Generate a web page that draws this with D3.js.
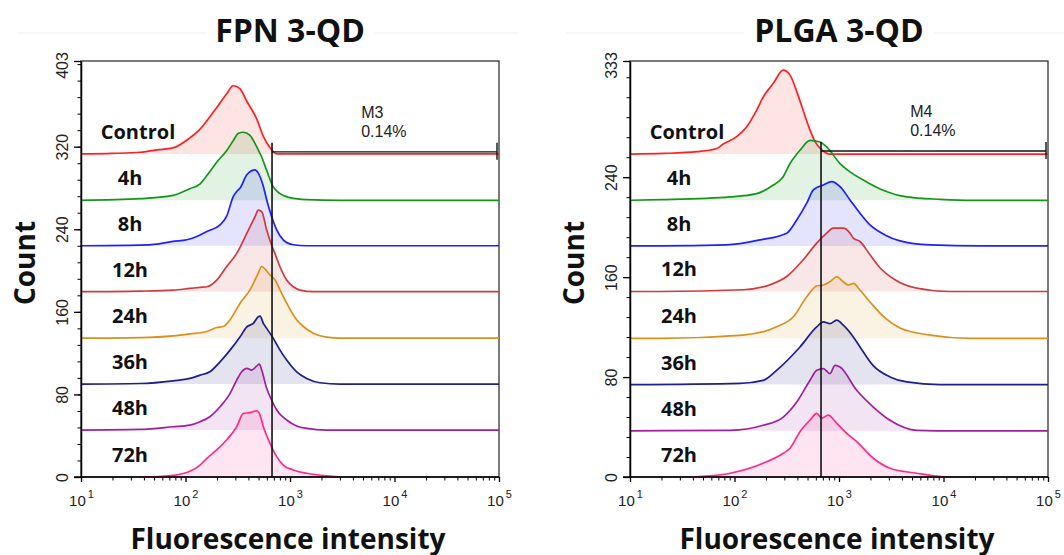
<!DOCTYPE html>
<html>
<head>
<meta charset="utf-8">
<script src="https://cdn.jsdelivr.net/npm/d3@7"></script>
<style>
body { margin: 0; background: #fff; }
</style>
</head>
<body>
<script>
var w = 1064;
var h = 555;

/*
    Series names (one histogram per time point) and their line colours.
*/
var categories = ["Control", "4h", "8h", "12h", "24h", "36h", "48h", "72h"];
var lineColors = ["#ff2020", "#14961a", "#1f1fff", "#cf3a3c", "#d8921c", "#1e1e8c", "#9e209e", "#ff2b8c"];

/*
    Tick labels for the axes.
*/
var xTickValues = [10, 100, 1000, 10000, 100000];
var xTickExponents = ["1", "2", "3", "4", "5"];
var fpnYTicks = [0, 80, 160, 240, 320, 403];
var plgaYTicks = [0, 80, 160, 240, 333];

/*
    Vertical offset (in counts) of every histogram, stacked from Control down to 72h.
*/
var fpnOffsets = [313, 268, 224, 179.5, 134.5, 90, 45.5, 0];
var plgaOffsets = [258.5, 221.5, 185, 148.5, 111, 74, 37, 0];

/*
    Gate marker: [start, end] intensity, count level and its text.
*/
var fpnGate = [673, 100000];
var fpnGateCount = 315;
var fpnGateText = ["M3", "0.14%"];
var plgaGate = [673, 100000];
var plgaGateCount = 261;
var plgaGateText = ["M4", "0.14%"];

/*
    FPN 3-QD histograms: [fluorescence intensity, count above the offset]
*/
var fpnControl = [[10, 0], [20, 0.5], [37, 1.6], [53, 3.9], [76, 5.8], [110, 15.5], [138, 24], [160, 32], [199, 45], [247, 58], [287, 66], [333, 63], [386, 51], [480, 34], [556, 17], [644, 6], [746, 0], [100000, 0]];
var fpn4h = [[10, 0], [37, 1.6], [76, 4.8], [110, 11.3], [138, 16], [160, 24], [199, 37], [247, 48], [287, 58], [321, 65], [358, 66], [414, 63], [480, 52], [536, 42], [598, 29], [692, 13], [802, 6.5], [1000, 2.6], [1445, 0.7], [3010, 0], [100000, 0]];
var fpn8h = [[10, 0], [37, 0.6], [53, 1.6], [76, 4.2], [103, 5.8], [128, 9], [160, 13.9], [214, 20.3], [247, 28.4], [287, 47.8], [309, 52.6], [333, 55.9], [386, 68.8], [463, 73.6], [497, 70.4], [556, 57.5], [598, 44.6], [667, 28.4], [746, 15.5], [862, 5.8], [1076, 1], [1445, 0], [100000, 0]];
var fpn12h = [[10, 0], [37, 0.6], [76, 1.6], [110, 3.2], [138, 4.2], [160, 4.8], [199, 11.3], [247, 24.2], [309, 37.1], [386, 56.5], [463, 72.7], [497, 79.1], [536, 77.5], [598, 59.8], [667, 45.2], [717, 37.1], [802, 24.2], [929, 11.3], [1076, 4.8], [1248, 1.6], [1672, 0], [100000, 0]];
var fpn24h = [[10, 0], [37, 0.6], [76, 2.3], [110, 4.2], [160, 6.5], [199, 10.3], [230, 11.3], [267, 17.8], [333, 33.9], [414, 46.8], [497, 63], [536, 69.4], [577, 66.9], [644, 61.3], [717, 56.5], [802, 46.8], [929, 33.9], [1158, 17.8], [1342, 11.3], [1672, 4.8], [2245, 1], [3010, 0], [100000, 0]];
var fpn36h = [[10, 0], [37, 0.6], [76, 3.2], [110, 5.5], [138, 8.7], [171, 11.9], [214, 21.6], [267, 32.9], [333, 45.8], [386, 55.5], [446, 58.8], [497, 65.2], [517, 65.9], [556, 58.8], [598, 54], [692, 44.3], [802, 32.9], [929, 23.3], [1158, 11.9], [1445, 5.5], [1936, 1.3], [3010, 0], [100000, 0]];
var fpn48h = [[10, 0], [37, 0.6], [76, 3.2], [110, 4.8], [138, 8.1], [171, 12.9], [214, 22.6], [267, 35.5], [309, 48.4], [345, 56.5], [386, 59.8], [430, 58.1], [480, 62], [509, 63.9], [536, 58.1], [598, 40.4], [667, 29.1], [746, 19.4], [929, 9.7], [1158, 3.9], [1445, 1.6], [2245, 0], [100000, 0]];
var fpn72h = [[35, 0], [55, 0.5], [76, 1.5], [110, 5.5], [138, 11.6], [160, 18.1], [199, 26.2], [247, 35.8], [309, 48.7], [358, 61.7], [414, 62.3], [480, 64.2], [509, 61.7], [556, 48.7], [644, 32.6], [746, 19.7], [862, 11.6], [1076, 6.8], [1445, 3.6], [2245, 1], [3010, 0]];

/*
    PLGA 3-QD histograms
*/
var plgaControl = [[10, 0], [21, 0.5], [43.5, 1.9], [67.6, 4.5], [78, 8], [105, 13.9], [131, 21.9], [163, 35.2], [189, 45.9], [235, 56.6], [293, 67.2], [340, 63.2], [396, 49.6], [453, 35.2], [528, 19.2], [602, 8.8], [688, 3.2], [820, 0], [100000, 0]];
var plga4h = [[10, 0], [20, 0.5], [91, 2.7], [163, 5.3], [233, 12], [291, 18.7], [340, 29.4], [423, 40], [528, 48], [658, 46.7], [762, 42.7], [1023, 29.4], [1275, 22.7], [1840, 14.7], [2652, 8], [4443, 2.7], [9266, 0.8], [19140, 0], [100000, 0]];
var plga8h = [[10, 0], [19.4, 0], [84, 0.8], [175, 4.8], [316, 10.2], [394, 20.8], [491, 34.2], [568, 44.8], [708, 48.8], [851, 51.5], [1023, 47.5], [1275, 36.8], [1589, 26.2], [1980, 16.8], [2754, 8.8], [3834, 4], [7427, 0.8], [22330, 0], [100000, 0]];
var plga12h = [[10, 0], [19.4, 0], [121, 1.4], [219, 5.4], [316, 12], [455, 25.4], [612, 38.7], [762, 46.7], [881, 50.7], [1099, 50.7], [1275, 46.7], [1371, 42.7], [1589, 40], [1980, 29.4], [2466, 19], [3434, 9.4], [5333, 3], [11530, 0], [100000, 0]];
var plga24h = [[10, 0], [19.4, 0], [121, 2.6], [253, 9.3], [366, 17.3], [491, 33.3], [612, 41.9], [708, 42.7], [820, 45.3], [951, 49.3], [1099, 45.3], [1227, 42.7], [1371, 44], [1589, 38.7], [1980, 29.1], [2754, 16.3], [3834, 8.3], [7427, 2.6], [17940, 0], [100000, 0]];
var plga36h = [[10, 0], [113, 1], [188, 3.4], [253, 11.4], [423, 30.1], [612, 46.1], [708, 50.1], [820, 48.8], [951, 51.5], [1099, 47.5], [1371, 38.1], [1589, 30.1], [2115, 15.4], [3076, 6.1], [4446, 2.1], [9266, 0], [100000, 0]];
var plga48h = [[10, 0], [91, 0.4], [188, 4.4], [293, 11], [394, 23], [528, 40.4], [612, 48.4], [708, 49.8], [820, 45.8], [916, 52.4], [1023, 51], [1477, 32.4], [2130, 19], [3076, 8.4], [5546, 0.4], [13360, 0], [100000, 0]];
var plga72h = [[40, 0], [43.5, 0.2], [91, 3], [188, 11], [293, 19], [340, 23], [423, 36.3], [528, 45.6], [612, 51], [683, 47], [790, 49.6], [951, 43], [1186, 35], [1477, 28.3], [2130, 15], [3076, 7], [5546, 3], [9953, 0.2], [12000, 0]];

var fpnSeries = [fpnControl, fpn4h, fpn8h, fpn12h, fpn24h, fpn36h, fpn48h, fpn72h];
var plgaSeries = [plgaControl, plga4h, plga8h, plga12h, plga24h, plga36h, plga48h, plga72h];

var boldFont = "'Open Sans', 'Noto Sans', sans-serif";
var plainFont = "'Liberation Sans', Arial, sans-serif";

var svg = d3.select("body")
    .append("svg")
    .attr("width", w)
    .attr("height", h);

/*
    One panel: frame, stacked histograms, gate marker, axes and titles.
*/
function drawPanel(p) {
    var left = p.left;
    var right = p.left + 418;
    var top = 61;
    var bottom = 477;

    var x = d3.scaleLog()
        .domain([10, 100000])
        .range([left, right]);

    var y = d3.scaleLinear()
        .domain([0, p.yMax])
        .range([bottom, top]);

    var g = svg.append("g");

    // title with faint rule either side
    var title = g.append("text")
        .attr("x", (left + right) / 2)
        .attr("y", 41.5)
        .attr("text-anchor", "middle")
        .style("font-family", boldFont)
        .style("font-weight", "bold")
        .style("font-size", "32px")
        .style("fill", "#111")
        .text(p.title);
    var tw = title.node().getComputedTextLength();
    g.append("line")
        .attr("x1", left - 64).attr("x2", (left + right) / 2 - tw / 2 - 10)
        .attr("y1", 33).attr("y2", 33)
        .style("stroke", "#eeeeee");
    g.append("line")
        .attr("x1", (left + right) / 2 + tw / 2 + 10).attr("x2", right + 20)
        .attr("y1", 33).attr("y2", 33)
        .style("stroke", "#eeeeee");

    // frame
    g.append("rect")
        .attr("x", left).attr("y", top)
        .attr("width", right - left).attr("height", bottom - top)
        .style("fill", "none")
        .style("stroke", "#333")
        .style("stroke-width", 1.3);

    // filled areas first, then the lines on top
    p.series.forEach(function(s, i) {
        var base = p.offsets[i];
        var area = d3.area()
            .x(function(d) { return x(d[0]); })
            .y0(y(base))
            .y1(function(d) { return y(base + d[1]); })
            .curve(d3.curveMonotoneX);
        g.append("path")
            .datum(s)
            .attr("d", area)
            .style("fill", lineColors[i])
            .style("fill-opacity", 0.12);
    });

    p.series.forEach(function(s, i) {
        var base = p.offsets[i];
        var line = d3.line()
            .x(function(d) { return x(d[0]); })
            .y(function(d) { return y(base + d[1]); })
            .curve(d3.curveMonotoneX);
        g.append("path")
            .datum(s)
            .attr("d", line)
            .style("fill", "none")
            .style("stroke", lineColors[i])
            .style("stroke-width", 1.7);
    });

    // series labels
    g.selectAll("text.series")
        .data(categories)
        .enter()
        .append("text")
        .attr("class", "series")
        .attr("x", function(d, i) { return left + (i == 0 ? 57 : 49); })
        .attr("y", function(d, i) { return y(p.offsets[i]) - 15; })
        .attr("text-anchor", "middle")
        .style("font-family", boldFont)
        .style("font-weight", "bold")
        .style("font-size", "20px")
        .style("fill", "#111")
        .text(function(d) { return d; });

    // gate marker
    var gy = y(p.gateCount);
    g.append("line")
        .attr("x1", x(p.gate[0])).attr("x2", x(p.gate[0]))
        .attr("y1", gy - 9).attr("y2", bottom)
        .style("stroke", "#111").style("stroke-width", 1.6);
    g.append("line")
        .attr("x1", x(p.gate[0])).attr("x2", x(p.gate[1]) - 2)
        .attr("y1", gy).attr("y2", gy)
        .style("stroke", "#111").style("stroke-width", 1.4);
    g.append("line")
        .attr("x1", x(p.gate[1]) - 2).attr("x2", x(p.gate[1]) - 2)
        .attr("y1", gy - 9).attr("y2", gy + 8)
        .style("stroke", "#111").style("stroke-width", 1.4);
    g.selectAll("text.gate")
        .data(p.gateText)
        .enter()
        .append("text")
        .attr("class", "gate")
        .attr("x", x(4800))
        .attr("y", function(d, i) { return gy - 33.5 + i * 18.5; })
        .style("font-family", plainFont)
        .style("font-size", "16px")
        .style("fill", "#222")
        .text(function(d) { return d; });

    // y axis: minor ticks every 16 counts, then labelled ticks
    g.append("g")
        .attr("transform", "translate(" + left + ",0)")
        .call(d3.axisLeft(y).tickValues(d3.range(16, p.yMax, 16)).tickSize(3.5).tickSizeOuter(0).tickFormat(""))
        .call(function(a) { a.select(".domain").remove(); });

    var yAxis = d3.axisLeft(y)
        .tickValues(p.yTicks)
        .tickSize(7)
        .tickSizeOuter(0)
        .tickFormat(d3.format("d"));

    var ya = g.append("g")
        .attr("transform", "translate(" + left + ",0)")
        .call(yAxis);
    ya.select(".domain").style("stroke-width", 1.5);
    ya.selectAll(".tick line").style("stroke-width", 1.3);
    ya.selectAll(".tick text")
        .attr("transform", "rotate(-90)")
        .attr("x", function(d) { return d == p.yMax ? -4 : 0; })
        .attr("y", -13)
        .attr("dy", null)
        .attr("text-anchor", "middle")
        .style("font-family", plainFont)
        .style("font-size", "16px")
        .style("fill", "#222");

    // x axis: minor ticks on 2..9 of each decade, then decades
    var minors = [];
    [10, 100, 1000, 10000].forEach(function(dec) {
        for (var k = 2; k < 10; k++) minors.push(dec * k);
    });
    g.append("g")
        .attr("transform", "translate(0," + bottom + ")")
        .call(d3.axisBottom(x).tickValues(minors).tickSize(3.5).tickSizeOuter(0).tickFormat(""))
        .call(function(a) { a.select(".domain").remove(); });

    var xa = g.append("g")
        .attr("transform", "translate(0," + bottom + ")")
        .call(d3.axisBottom(x).tickValues(xTickValues).tickSize(5).tickSizeOuter(0).tickFormat(""));
    xa.select(".domain").attr("d", "M" + (left - 7) + ",0H" + right).style("stroke-width", 1.5);
    xa.selectAll(".tick line").style("stroke-width", 1.3);
    xa.selectAll(".tick text").each(function(d, i) {
        var t = d3.select(this)
            .attr("y", 29)
            .attr("dy", null)
            .attr("text-anchor", "middle")
            .style("font-family", plainFont)
            .style("font-size", "15px")
            .style("fill", "#222");
        t.append("tspan").text("10");
        t.append("tspan").attr("dx", 2).attr("dy", -8).style("font-size", "11px").text(xTickExponents[i]);
    });

    // axis titles
    g.append("text")
        .attr("transform", "translate(" + (left - 46) + "," + 263 + ") rotate(-90)")
        .attr("text-anchor", "middle")
        .style("font-family", boldFont)
        .style("font-weight", "bold")
        .style("font-size", "28px")
        .style("fill", "#111")
        .text("Count");

    g.append("text")
        .attr("x", (left + right) / 2 - 2)
        .attr("y", 549)
        .attr("text-anchor", "middle")
        .style("font-family", boldFont)
        .style("font-weight", "bold")
        .style("font-size", "28px")
        .style("fill", "#111")
        .text("Fluorescence intensity");
}

drawPanel({
    left: 81,
    title: "FPN 3-QD",
    yMax: 403,
    yTicks: fpnYTicks,
    series: fpnSeries,
    offsets: fpnOffsets,
    gate: fpnGate,
    gateCount: fpnGateCount,
    gateText: fpnGateText
});

drawPanel({
    left: 630,
    title: "PLGA 3-QD",
    yMax: 333,
    yTicks: plgaYTicks,
    series: plgaSeries,
    offsets: plgaOffsets,
    gate: plgaGate,
    gateCount: plgaGateCount,
    gateText: plgaGateText
});
</script>
</body>
</html>
